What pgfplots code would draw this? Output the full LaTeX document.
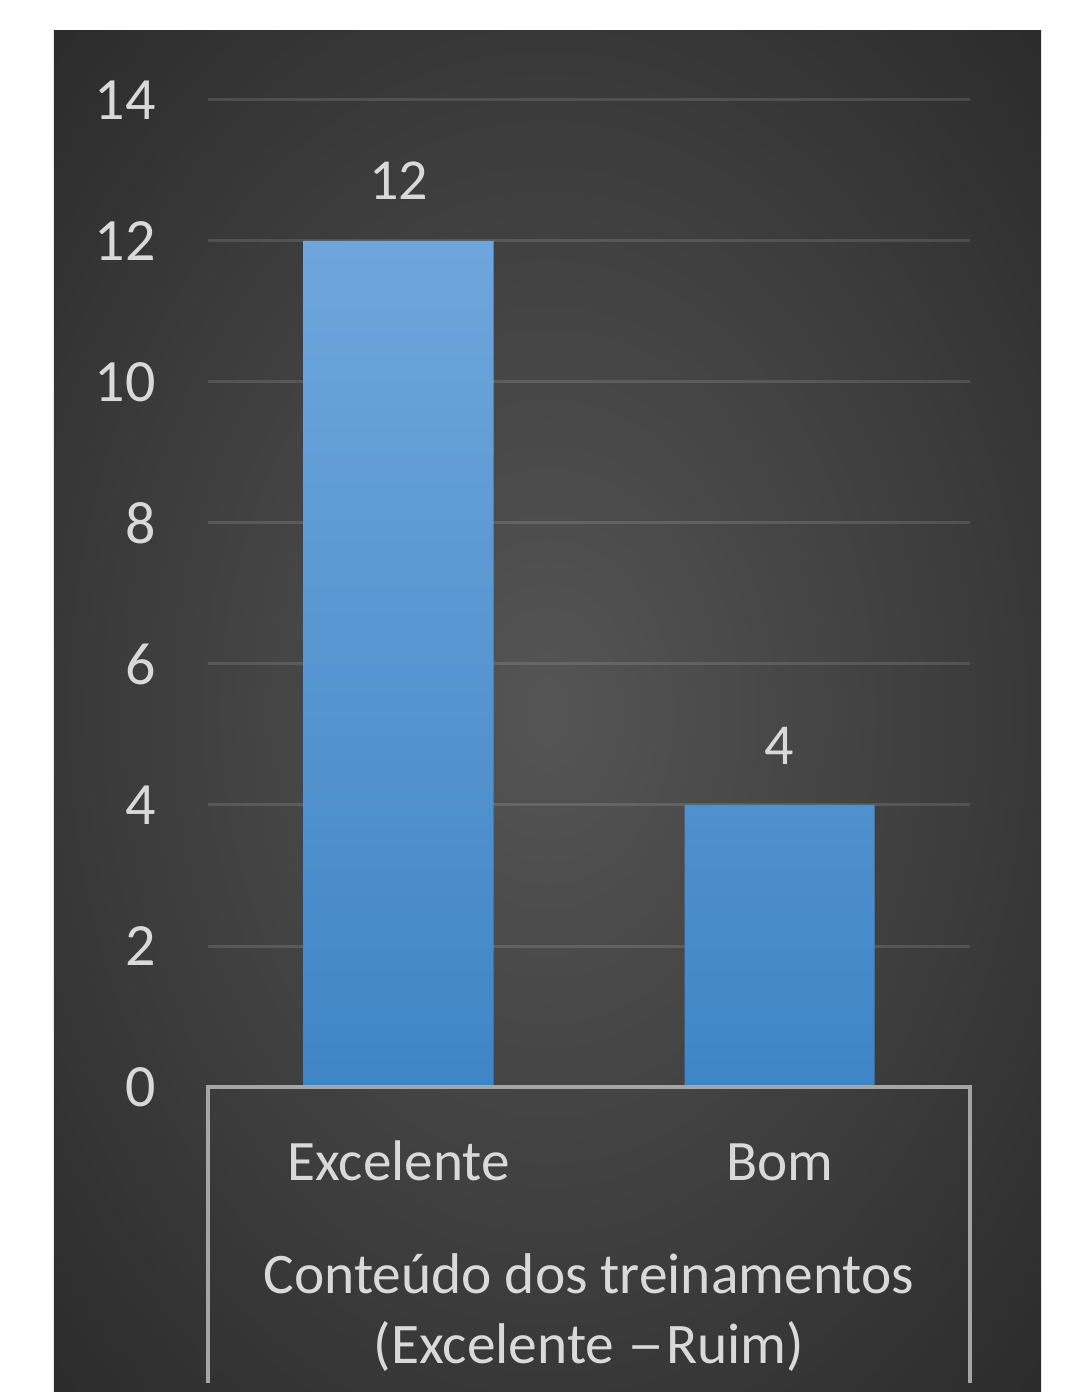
\documentclass[border=0pt]{standalone}
\usepackage{graphicx}
\usepackage{pgfplots}
\pgfplotsset{compat=1.18}
\usepackage{fontspec}
\setmainfont{Carlito}
\definecolor{txt}{HTML}{D9D9D9}
\definecolor{barTop}{HTML}{6EA6DC}
\definecolor{barBot}{HTML}{3F85C6}
\definecolor{axl}{HTML}{A5A5A5}
\definecolor{bgin}{HTML}{555555}
\definecolor{bgout}{HTML}{262626}
\pgfdeclareradialshading{bgshade}{\pgfpoint{0bp}{0bp}}{color(0bp)=(bgin); color(40bp)=(bgout); color(50bp)=(bgout)}
\begin{document}
\begin{tikzpicture}
\useasboundingbox (-104pt,-152.5pt) rectangle (428.5pt,543.5pt);
\fill[white] (-104pt,-152.5pt) rectangle (428.5pt,543.5pt);
\shade[shading=bgshade] (-77pt,-152.5pt) rectangle (416.5pt,528pt);
\begin{axis}[
  at={(0pt,0pt)}, anchor=south west,
  scale only axis, width=381pt, height=493.5pt,
  xmin=-0.5, xmax=1.5, ymin=0, ymax=14,
  ytick={0,2,...,14},
  xtick={0,1}, xticklabels={Excelente,Bom},
  axis line style={draw=none},
  major tick length=0pt,
  ymajorgrids,
  major grid style={white, opacity=0.12, line width=1.5pt},
  /pgf/number format/assume math mode=true,
  ticklabel style={text=txt},
  yticklabel style={font=\fontsize{30}{30}\selectfont, anchor=east, inner sep=0pt, xshift=-26pt},
  xticklabel style={font=\fontsize{28.6}{28.6}\selectfont, anchor=base, inner sep=0pt, yshift=-46.5pt},
  nodes near coords,
  every node near coord/.append style={text=txt, font=\fontsize{29}{29}\selectfont, anchor=base, inner sep=0pt, yshift=20.5pt},
  clip=false,
]
\addplot[ybar, bar width=95pt, draw=none, top color=barTop, bottom color=barBot]
  coordinates {(0,12) (1,4)};
\end{axis}
\draw[axl, line width=2pt] (0pt,-148pt) -- (0pt,0pt) -- (381pt,0pt) -- (381pt,-148pt);
\node[anchor=base, text=txt, font=\fontsize{28.7}{35}\selectfont, inner sep=0pt] at (190.5pt,-103pt) {Conteúdo dos treinamentos};
\node[anchor=base, text=txt, font=\fontsize{28.7}{35}\selectfont, inner sep=0pt] at (190.5pt,-138pt) {(Excelente \scalebox{1.3}[1]{–}\kern1pt Ruim)};
\end{tikzpicture}
\end{document}
